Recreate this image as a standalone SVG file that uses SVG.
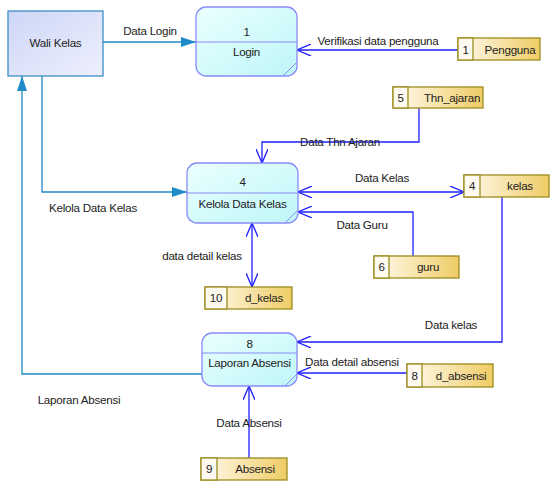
<svg xmlns="http://www.w3.org/2000/svg" width="550" height="482" viewBox="0 0 550 482">
<defs>
<linearGradient id="gExt" x1="0" y1="0" x2="1" y2="1"><stop offset="0" stop-color="#cdd6f6"/><stop offset="1" stop-color="#eef0fd"/></linearGradient>
<linearGradient id="gProc" x1="0" y1="0" x2="1" y2="1"><stop offset="0" stop-color="#ecffff"/><stop offset="1" stop-color="#bdf6f8"/></linearGradient>
<linearGradient id="gStore" x1="0" y1="0" x2="1" y2="0"><stop offset="0" stop-color="#fffbef"/><stop offset="1" stop-color="#f0cc66"/></linearGradient>
<marker id="open" viewBox="0 0 14 12" refX="14" refY="6" markerWidth="14" markerHeight="12" markerUnits="userSpaceOnUse" orient="auto-start-reverse"><path d="M0,0 L14,6 L0,12" fill="none" stroke="#1f1fff" stroke-width="1.3"/></marker>
<marker id="fill" viewBox="0 0 15 10" refX="15" refY="5" markerWidth="15" markerHeight="10" markerUnits="userSpaceOnUse" orient="auto"><path d="M0,0 L15,5 L0,10 Z" fill="#1e8ac6"/></marker>
<style>
text{font-family:"Liberation Sans",Arial,sans-serif;font-size:11.6px;letter-spacing:-0.25px;fill:#222}
.m{text-anchor:middle}
.ext{fill:url(#gExt);stroke:#3d8fc9;stroke-width:1.3}
.proc{fill:url(#gProc);stroke:#8a8af8;stroke-width:1.3}
.pl{stroke:#8a8af8;stroke-width:1;fill:none}
.store{fill:url(#gStore);stroke:#9c8c1e;stroke-width:1.3}
.num{fill:#fffaf0;stroke:#9c8c1e;stroke-width:1.3}
.df{fill:none;stroke:#1f1fff;stroke-width:1.3}
.xf{fill:none;stroke:#1e8ac6;stroke-width:1.3}
</style>
</defs>

<g id="connectors">
<path class="xf" d="M103,42 H196" marker-end="url(#fill)"/>
<path class="df" d="M458,50 H297" marker-end="url(#open)"/>
<path class="df" d="M419,108 V142 H262 V163" marker-end="url(#open)"/>
<path class="xf" d="M42,76 V192 H187" marker-end="url(#fill)"/>
<path class="df" d="M298,192 H464" marker-start="url(#open)" marker-end="url(#open)"/>
<path class="df" d="M413,256 V212 H298" marker-end="url(#open)"/>
<path class="df" d="M252,223 V287" marker-start="url(#open)" marker-end="url(#open)"/>
<path class="df" d="M502,197 V342 H297" marker-end="url(#open)"/>
<path class="df" d="M407,373 H297" marker-end="url(#open)"/>
<path class="df" d="M249,458 V386" marker-end="url(#open)"/>
<path class="xf" d="M202,374 H22 V76" marker-end="url(#fill)"/>
<text class="m" x="150" y="35">Data Login</text>
<text class="m" x="378" y="45">Verifikasi data pengguna</text>
<text class="m" x="340" y="146">Data Thn Ajaran</text>
<text class="m" x="382" y="182">Data Kelas</text>
<text class="m" x="362" y="229">Data Guru</text>
<text class="m" x="93" y="212">Kelola Data Kelas</text>
<text class="m" x="202" y="260">data detail kelas</text>
<text class="m" x="451" y="329">Data kelas</text>
<text class="m" x="352" y="366">Data detail absensi</text>
<text class="m" x="79" y="404">Laporan Absensi</text>
<text class="m" x="249" y="427">Data Absensi</text>
</g>

<g id="wali-kelas">
<rect class="ext" x="8" y="11" width="95" height="65"/>
<text class="m" x="55.5" y="47">Wali Kelas</text>
</g>

<g id="p1-login">
<rect class="proc" x="196" y="7" width="101" height="69" rx="10"/>
<path class="pl" d="M196,42 H297 M283,76 L297,62"/>
<text class="m" x="246.5" y="36">1</text>
<text class="m" x="246.5" y="56">Login</text>
</g>

<g id="p4-kelola">
<rect class="proc" x="187" y="163" width="111" height="60" rx="10"/>
<path class="pl" d="M187,193 H298 M285,223 L298,210"/>
<text class="m" x="242.5" y="186">4</text>
<text class="m" x="242.5" y="208">Kelola Data Kelas</text>
</g>

<g id="p8-laporan">
<rect class="proc" x="202" y="333" width="95" height="53" rx="10"/>
<path class="pl" d="M202,353 H297 M285,386 L297,374"/>
<text class="m" x="249.5" y="348">8</text>
<text class="m" x="249.5" y="367">Laporan Absensi</text>
</g>

<g id="s1-pengguna">
<rect class="store" x="458" y="38" width="82" height="22"/>
<rect class="num" x="458" y="38" width="15" height="22"/>
<text class="m" x="465.5" y="54">1</text>
<text class="m" x="510" y="54">Pengguna</text>
</g>

<g id="s5-thn-ajaran">
<rect class="store" x="393" y="87" width="90" height="21"/>
<rect class="num" x="393" y="87" width="15" height="21"/>
<text class="m" x="400.5" y="102">5</text>
<text class="m" x="452" y="102">Thn_ajaran</text>
</g>

<g id="s4-kelas">
<rect class="store" x="464" y="175" width="85" height="22"/>
<rect class="num" x="464" y="175" width="16" height="22"/>
<text class="m" x="472" y="190">4</text>
<text class="m" x="520" y="190">kelas</text>
</g>

<g id="s6-guru">
<rect class="store" x="374" y="256" width="85" height="22"/>
<rect class="num" x="374" y="256" width="15" height="22"/>
<text class="m" x="381.5" y="271">6</text>
<text class="m" x="428" y="271">guru</text>
</g>

<g id="s10-d-kelas">
<rect class="store" x="205" y="287" width="87" height="22"/>
<rect class="num" x="205" y="287" width="22" height="22"/>
<text class="m" x="216" y="302">10</text>
<text class="m" x="264" y="302">d_kelas</text>
</g>

<g id="s8-d-absensi">
<rect class="store" x="407" y="364" width="86" height="23"/>
<rect class="num" x="407" y="364" width="15" height="23"/>
<text class="m" x="414.5" y="380">8</text>
<text class="m" x="461" y="380">d_absensi</text>
</g>

<g id="s9-absensi">
<rect class="store" x="201" y="458" width="86" height="22"/>
<rect class="num" x="201" y="458" width="16" height="22"/>
<text class="m" x="209" y="473">9</text>
<text class="m" x="255" y="473">Absensi</text>
</g>
</svg>
